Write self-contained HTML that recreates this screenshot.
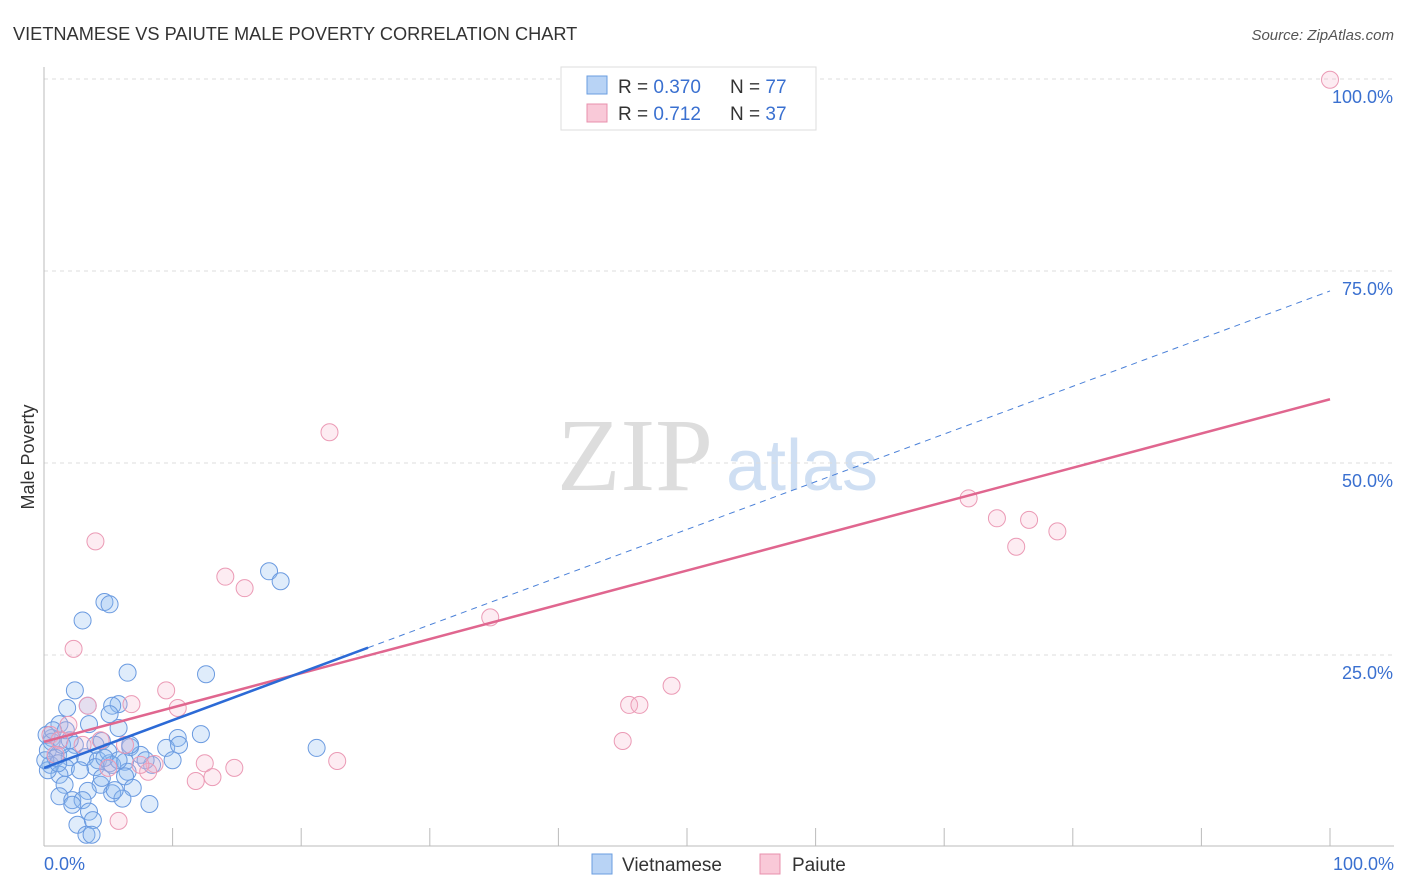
<!DOCTYPE html>
<html><head><meta charset="utf-8"><style>
body{margin:0;background:#fff;font-family:"Liberation Sans",sans-serif}
svg{display:block}
</style></head><body>
<svg id="chart" width="1406" height="892">
<text x="13" y="40" font-size="18.2" fill="#333">VIETNAMESE VS PAIUTE MALE POVERTY CORRELATION CHART</text>
<text x="1394" y="40" font-size="15" fill="#555" font-style="italic" text-anchor="end">Source: ZipAtlas.com</text>
<text x="34" y="457" font-size="18" fill="#333" text-anchor="middle" transform="rotate(-90 34 457)">Male Poverty</text>
<g>
<text x="635" y="490" font-size="104" fill="#ddd" text-anchor="middle" font-family="Liberation Serif,serif">ZIP</text>
<text x="802" y="490" font-size="72" fill="#cfdff3" text-anchor="middle">atlas</text>
</g>
<g id="grid"></g><g id="pts"></g><g id="trend"></g>
<g>
<rect x="561" y="67" width="255" height="63" fill="#fff" stroke="#ddd"/>
<rect x="587" y="76" width="20" height="18" fill="#b8d3f5" stroke="#6a9ee0"/>
<text x="618" y="93" font-size="19" fill="#333">R = <tspan fill="#3a70d0">0.370</tspan></text>
<text x="730" y="93" font-size="19" fill="#333">N = <tspan fill="#3a70d0">77</tspan></text>
<rect x="587" y="104" width="20" height="18" fill="#f9c9d8" stroke="#e890ad"/>
<text x="618" y="120" font-size="19" fill="#333">R =  <tspan fill="#3a70d0">0.712</tspan></text>
<text x="730" y="120" font-size="19" fill="#333">N = <tspan fill="#3a70d0">37</tspan></text>
</g>
<g>
<rect x="592" y="854" width="20" height="20" fill="#b8d3f5" stroke="#6a9ee0"/>
<text x="622" y="871" font-size="19" fill="#333">Vietnamese</text>
<rect x="760" y="854" width="20" height="20" fill="#f9c9d8" stroke="#e890ad"/>
<text x="792" y="871" font-size="19" fill="#333">Paiute</text>
</g>
</svg>
<script>
const blueX=[17.5,18.4,4.7,5.1,3.0,6.5,12.6,2.4,1.8,3.4,5.8,5.3,5.1,1.2,3.5,5.8,10.4,12.2,0.6,2.4,4.5,6.7,9.5,10.5,21.2,0.3,1.1,2.0,3.2,4.2,5.1,6.3,10.0,0.5,1.7,4.0,5.3,6.5,8.4,1.2,6.3,1.6,4.4,6.9,3.4,1.2,2.2,3.0,5.3,6.1,8.2,2.2,3.5,2.6,3.8,3.3,3.7,0.2,0.6,0.9,1.4,0.3,2.0,4.0,5.0,7.5,0.1,0.7,1.1,2.8,4.5,5.8,1.7,4.7,6.7,7.9,5.5];
const blueY=[35.9,34.6,31.9,31.6,29.5,22.7,22.5,20.4,18.1,18.4,18.6,18.4,17.3,16.0,16.0,15.5,14.2,14.7,14.2,13.3,13.8,13.0,12.9,13.3,12.9,12.6,12.0,11.7,11.7,11.3,10.9,11.1,11.3,10.7,10.3,10.4,10.7,9.8,10.7,9.4,9.2,8.1,8.1,7.7,7.3,6.6,6.1,6.1,7.0,6.3,5.6,5.5,4.6,2.9,3.5,1.6,1.6,14.6,13.7,11.6,13.3,10.0,13.9,13.3,12.4,12.0,11.3,15.2,10.9,10.0,9.0,11.3,15.2,11.6,13.3,11.3,7.4];
const pinkX=[100,22.2,71.9,74.1,76.6,78.8,75.6,4.0,14.1,15.6,34.7,2.3,48.8,9.5,45.5,46.3,6.8,3.4,10.4,1.9,6.3,45.0,0.5,22.8,12.5,14.8,8.6,8.1,13.1,11.8,5.8,1.2,3.0,4.4,0.9,7.5,5.0];
const pinkY=[99.9,54.0,45.4,42.8,42.6,41.1,39.1,39.8,35.2,33.7,29.9,25.8,21.0,20.4,18.5,18.5,18.6,18.4,18.1,15.9,13.3,13.8,14.6,11.2,10.9,10.3,10.8,9.8,9.1,8.6,3.4,13.9,13.3,13.9,12.0,10.7,10.3];
const blueTrend=[10.3,72.4,25.2];
const pinkTrend=[13.7,58.3];
const yTicks=[25,50,75,100];
const xTicks=[0,10,20,30,40,50,60,70,80,90,100];
const NS='http://www.w3.org/2000/svg';
const sx=v=>44+v*12.86, sy=v=>847-v*7.68;
function mk(t,a,p){const e=document.createElementNS(NS,t);for(const k in a)e.setAttribute(k,a[k]);p.appendChild(e);return e;}
const grid=document.getElementById('grid');
yTicks.forEach(v=>{
 const l=mk('line',{x1:44,x2:1394,y1:sy(v),y2:sy(v),stroke:'#ddd','stroke-dasharray':'4,4'},grid);
 
 
 const t=mk('text',{x:1393,y:sy(v)+24,'font-size':18,fill:'#3a70d0','text-anchor':'end'},grid);
 t.textContent=v.toFixed(1)+'%';
 
 
});
const ax=mk('line',{x1:44,x2:1394,y1:846,y2:846,stroke:'#bbb'},grid);


const ay=mk('line',{x1:44,x2:44,y1:67,y2:846,stroke:'#bbb'},grid);


xTicks.forEach(v=>{
 const l=mk('line',{x1:sx(v),x2:sx(v),y1:828,y2:846,stroke:'#bbb'},grid);
 
 
});
[[0,'start',44],[100,'end',1394]].forEach(([v,a,x])=>{
 const t=mk('text',{x:x,y:870,'font-size':18,fill:'#3a70d0','text-anchor':a},grid);
 t.textContent=v.toFixed(1)+'%';
 
 
});
const pts=document.getElementById('pts');
blueX.forEach((x,i)=>{
 const c=mk('circle',{cx:sx(x),cy:sy(blueY[i]),r:8.5,fill:'rgba(140,185,240,0.28)',stroke:'#6a9ae0','stroke-width':1},pts);
 
 
});
pinkX.forEach((x,i)=>{
 const c=mk('circle',{cx:sx(x),cy:sy(pinkY[i]),r:8.5,fill:'rgba(248,180,205,0.25)',stroke:'#eb9ab5','stroke-width':1},pts);
 
 
});
const tr=document.getElementById('trend');
const bAt=x=>blueTrend[0]+(blueTrend[1]-blueTrend[0])*x/100;
const pl=mk('line',{x1:sx(0),y1:sy(pinkTrend[0]),x2:sx(100),y2:sy(pinkTrend[1]),stroke:'#e0668f','stroke-width':2.5},tr);


const bd=mk('line',{x1:sx(blueTrend[2]),y1:sy(bAt(blueTrend[2])),x2:sx(100),y2:sy(bAt(100)),stroke:'#4a80d8','stroke-width':1,'stroke-dasharray':'6,5'},tr);


const bs=mk('line',{x1:sx(0),y1:sy(bAt(0)),x2:sx(blueTrend[2]),y2:sy(bAt(blueTrend[2])),stroke:'#2c6ad6','stroke-width':2.5},tr);


</script>
</body></html>
